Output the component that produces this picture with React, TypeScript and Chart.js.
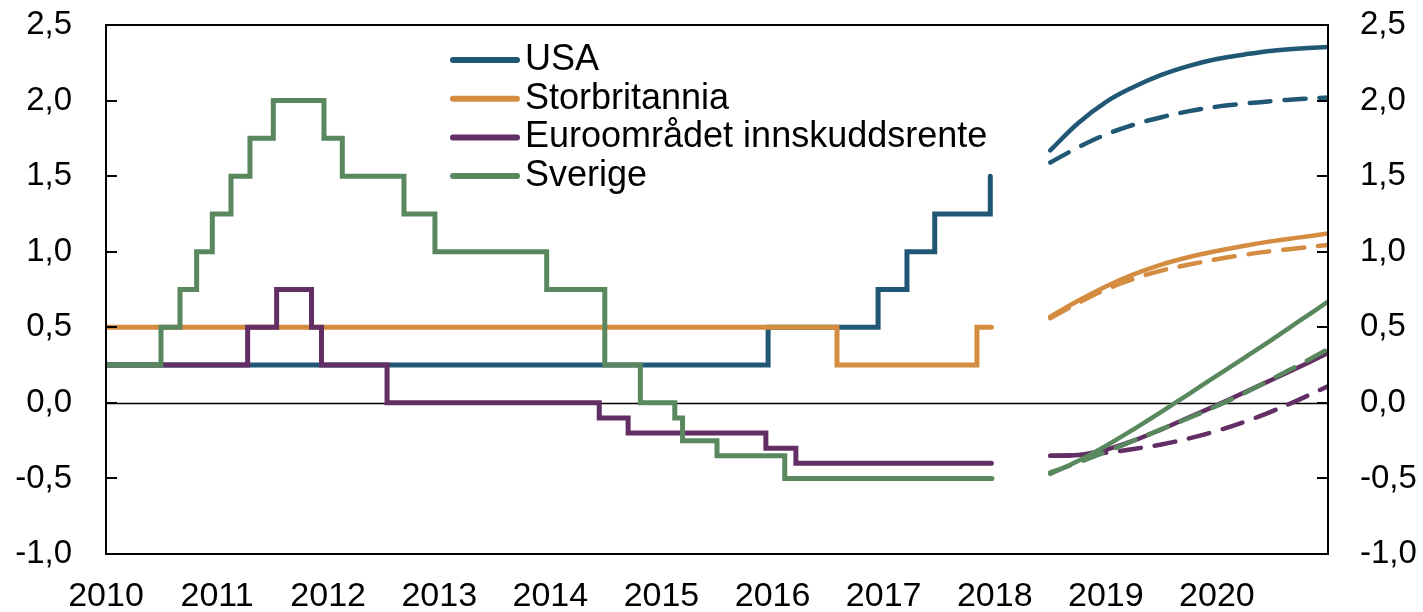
import React, { useEffect, useRef } from 'react';
import { Chart, registerables } from 'chart.js';

Chart.register(...registerables);

// ---------- Data ----------
const xTickYears = [2010, 2011, 2012, 2013, 2014, 2015, 2016, 2017, 2018, 2019, 2020];
const xMin = 2010;
const xMax = 2021;
const yMin = -1.0;
const yMax = 2.5;
const yStep = 0.5;

const seriesLabels = ['USA', 'Storbritannia', 'Euroområdet innskuddsrente', 'Sverige'];

// Policy rates (change dates as decimal years, new rate from that date)
const usaDates = [2010.0, 2015.96, 2016.95, 2017.21, 2017.46, 2017.96];
const usaRates = [0.25, 0.5, 0.75, 1.0, 1.25, 1.5];

const ukDates = [2010.0, 2016.58, 2017.84, 2017.97];
const ukRates = [0.5, 0.25, 0.5, 0.5];

const euroDates = [2010.0, 2011.275, 2011.536, 2011.85, 2011.94, 2012.53, 2014.44, 2014.7, 2015.94, 2016.21, 2017.97];
const euroRates = [0.25, 0.5, 0.75, 0.5, 0.25, 0.0, -0.1, -0.2, -0.3, -0.4, -0.4];

const swedenDates = [2010.0, 2010.495, 2010.666, 2010.816, 2010.957, 2011.125, 2011.296, 2011.506, 2011.962, 2012.127, 2012.682, 2012.961, 2013.967, 2014.49, 2014.81, 2015.12, 2015.19, 2015.5, 2016.11, 2017.975];
const swedenRates = [0.25, 0.5, 0.75, 1.0, 1.25, 1.5, 1.75, 2.0, 1.75, 1.5, 1.25, 1.0, 0.75, 0.25, 0.0, -0.1, -0.25, -0.35, -0.5, -0.5];

// Market expectations (solid = latest, dashed = earlier)
const forecastDates = [2018.5, 2018.75, 2019.0, 2019.25, 2019.5, 2019.75, 2020.0, 2020.25, 2020.5, 2020.75, 2021.0];
const usaForecastSolid = [1.67, 1.85, 1.99, 2.09, 2.17, 2.23, 2.275, 2.305, 2.33, 2.345, 2.355];
const usaForecastDashed = [1.59, 1.69, 1.775, 1.84, 1.89, 1.93, 1.96, 1.98, 1.997, 2.01, 2.02];
const ukForecastSolid = [0.57, 0.675, 0.77, 0.85, 0.915, 0.965, 1.005, 1.04, 1.07, 1.095, 1.12];
const ukForecastDashed = [0.56, 0.66, 0.75, 0.82, 0.875, 0.915, 0.95, 0.98, 1.005, 1.025, 1.045];
const euroForecastSolid = [-0.35, -0.345, -0.31, -0.25, -0.175, -0.095, -0.015, 0.07, 0.155, 0.24, 0.33];
const euroForecastDashed = [-0.35, -0.345, -0.33, -0.305, -0.275, -0.235, -0.185, -0.125, -0.055, 0.025, 0.11];
const swedenForecastSolid = [-0.47, -0.385, -0.285, -0.175, -0.06, 0.06, 0.18, 0.3, 0.42, 0.545, 0.67];
const swedenForecastDashed = [-0.46, -0.395, -0.325, -0.25, -0.175, -0.1, -0.02, 0.065, 0.16, 0.255, 0.355];

// ---------- Styles ----------
const COLORS = {
  usa: '#1F5775',
  uk: '#D48C40',
  euro: '#632E63',
  sweden: '#5A885E',
};
const FONT = 'Arial, "Liberation Sans", sans-serif';

const toPoints = (xs: number[], ys: number[]) => xs.map((x, i) => ({ x, y: ys[i] }));
const fmt = (v: number) => Number(v).toFixed(1).replace('.', ',');

const stepDs = (label: string, xs: number[], ys: number[], color: string, order: number) => ({
  label,
  data: toPoints(xs, ys),
  borderColor: color,
  backgroundColor: color,
  borderWidth: 5,
  stepped: 'before' as const,
  pointRadius: 0,
  fill: false,
  borderCapStyle: 'round' as const,
  borderJoinStyle: 'miter' as const,
  order,
});

const fcDs = (label: string, ys: number[], color: string, dashed: boolean, order: number) => ({
  label,
  data: toPoints(forecastDates, ys),
  borderColor: color,
  backgroundColor: color,
  borderWidth: 4.5,
  borderDash: dashed ? [21, 14] : [],
  tension: 0.4,
  pointRadius: 0,
  fill: false,
  borderCapStyle: 'round' as const,
  order,
});

const framePlugin = {
  id: 'frame',
  beforeDatasetsDraw(chart: any) {
    const { ctx, chartArea } = chart;
    const y = chart.scales.y;
    const y0 = Math.round(y.getPixelForValue(0)) + 0.5;
    ctx.save();
    ctx.strokeStyle = '#000';
    ctx.lineWidth = 1.5;
    ctx.beginPath();
    ctx.moveTo(chartArea.left, y0);
    ctx.lineTo(chartArea.right, y0);
    ctx.stroke();
    ctx.restore();
  },
  afterDatasetsDraw(chart: any) {
    const { ctx, chartArea } = chart;
    const y = chart.scales.y;
    ctx.save();
    ctx.strokeStyle = '#000';
    ctx.lineWidth = 2;
    ctx.strokeRect(chartArea.left, chartArea.top, chartArea.right - chartArea.left, chartArea.bottom - chartArea.top);
    for (let v = yMin; v <= yMax + 1e-9; v += yStep) {
      const py = Math.round(y.getPixelForValue(v));
      ctx.beginPath();
      ctx.moveTo(chartArea.left, py);
      ctx.lineTo(chartArea.left + 11, py);
      ctx.moveTo(chartArea.right, py);
      ctx.lineTo(chartArea.right - 11, py);
      ctx.stroke();
    }
    ctx.restore();
  },
};

const legendItems = [
  { label: seriesLabels[0], color: COLORS.usa },
  { label: seriesLabels[1], color: COLORS.uk },
  { label: seriesLabels[2], color: COLORS.euro },
  { label: seriesLabels[3], color: COLORS.sweden },
];

const legendPlugin = {
  id: 'customLegend',
  afterDraw(chart: any) {
    const { ctx, chartArea } = chart;
    const lineX0 = chartArea.left + 347;
    const lineX1 = chartArea.left + 411;
    const textX = chartArea.left + 419;
    const rowY0 = chartArea.top + 35;
    const rowGap = 38.7;
    ctx.save();
    ctx.font = `36px ${FONT}`;
    ctx.textBaseline = 'middle';
    ctx.textAlign = 'left';
    legendItems.forEach((it, i) => {
      const ry = rowY0 + i * rowGap;
      ctx.strokeStyle = it.color;
      ctx.lineWidth = 6;
      ctx.lineCap = 'round';
      ctx.beginPath();
      ctx.moveTo(lineX0, ry);
      ctx.lineTo(lineX1, ry);
      ctx.stroke();
      ctx.fillStyle = '#000';
      ctx.fillText(it.label, textX, ry);
    });
    ctx.restore();
  },
};

export default function App() {
  const canvasRef = useRef<HTMLCanvasElement | null>(null);

  useEffect(() => {
    document.body.style.margin = '0';
    const canvas = canvasRef.current;
    if (!canvas) return;

    const datasets: any[] = [
      stepDs(seriesLabels[3], swedenDates, swedenRates, COLORS.sweden, 1),
      stepDs(seriesLabels[2], euroDates, euroRates, COLORS.euro, 2),
      stepDs(seriesLabels[1], ukDates, ukRates, COLORS.uk, 3),
      stepDs(seriesLabels[0], usaDates, usaRates, COLORS.usa, 4),
      fcDs('USA (forventning)', usaForecastSolid, COLORS.usa, false, 5),
      fcDs('USA (tidligere)', usaForecastDashed, COLORS.usa, true, 6),
      fcDs('Storbritannia (forventning)', ukForecastSolid, COLORS.uk, false, 5),
      fcDs('Storbritannia (tidligere)', ukForecastDashed, COLORS.uk, true, 6),
      fcDs('Sverige (forventning)', swedenForecastSolid, COLORS.sweden, false, 3),
      fcDs('Sverige (tidligere)', swedenForecastDashed, COLORS.sweden, true, 3),
      fcDs('Euroområdet (forventning)', euroForecastSolid, COLORS.euro, false, 5),
      fcDs('Euroområdet (tidligere)', euroForecastDashed, COLORS.euro, true, 6),
    ];

    const yTicks = {
      color: '#000',
      font: { size: 33, family: FONT },
      stepSize: yStep,
      callback: (v: any) => fmt(v),
    };

    const fixVertical = (w: number) => (scale: any) => {
      scale.width = w;
      scale.paddingTop = 0;
      scale.paddingBottom = 0;
    };

    const chart = new Chart(canvas, {
      type: 'line',
      data: { datasets },
      plugins: [framePlugin, legendPlugin],
      options: {
        animation: false,
        responsive: false,
        devicePixelRatio: 1,
        layout: { padding: { top: 25, left: 0, right: 0, bottom: 0 } },
        plugins: {
          legend: { display: false },
          tooltip: { enabled: false },
        },
        scales: {
          x: {
            type: 'linear',
            min: xMin,
            max: xMax,
            grid: { display: false, drawTicks: false },
            border: { display: false },
            afterBuildTicks: (scale: any) => {
              scale.ticks = xTickYears.map((v) => ({ value: v }));
            },
            ticks: {
              color: '#000',
              font: { size: 34, family: FONT },
              padding: 22,
              maxRotation: 0,
              autoSkip: false,
              callback: (v: any) => String(v),
            },
            afterFit: (scale: any) => {
              scale.height = 58;
              scale.paddingLeft = 0;
              scale.paddingRight = 0;
            },
          },
          y: {
            type: 'linear',
            position: 'left',
            min: yMin,
            max: yMax,
            grid: { display: false, drawTicks: false },
            border: { display: false },
            ticks: { ...yTicks, padding: 34 },
            afterFit: fixVertical(106),
          },
          y2: {
            type: 'linear',
            position: 'right',
            min: yMin,
            max: yMax,
            grid: { display: false, drawTicks: false },
            border: { display: false },
            ticks: { ...yTicks, padding: 32 },
            afterFit: fixVertical(95),
          },
        },
      },
    });

    return () => chart.destroy();
  }, []);

  return (
    <div style={{ width: 1423, height: 612, background: '#fff' }}>
      <canvas ref={canvasRef} width={1423} height={612} style={{ display: 'block', width: 1423, height: 612 }} />
    </div>
  );
}
